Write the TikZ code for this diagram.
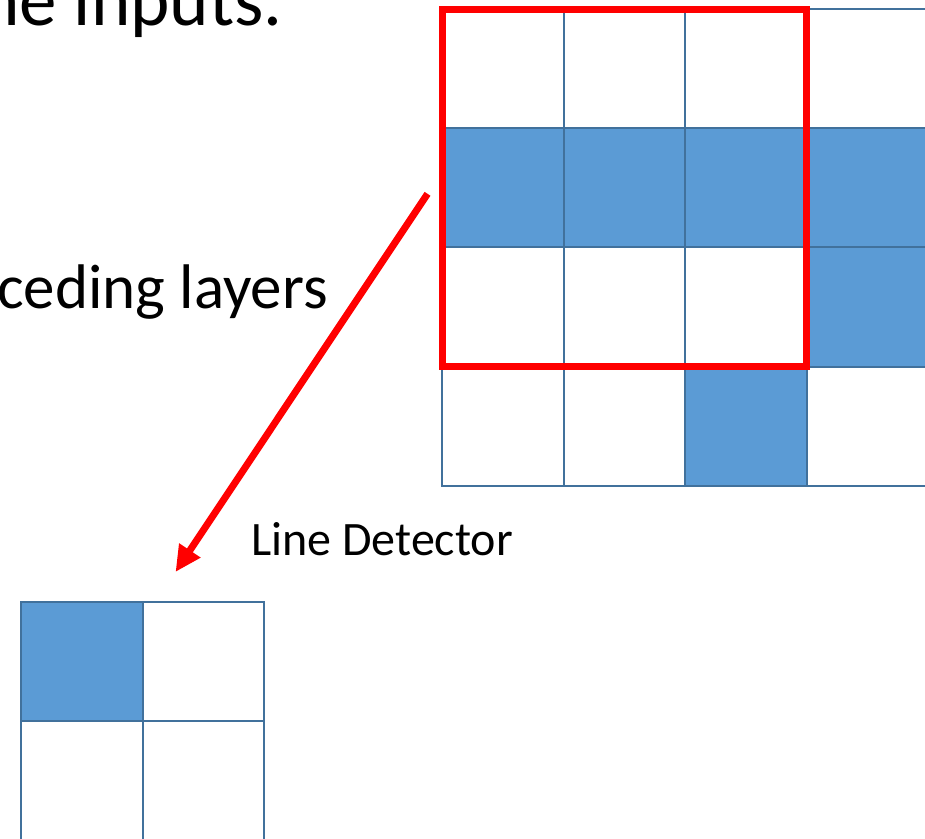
\documentclass[tikz,border=0pt]{standalone}
\usepackage{fontspec}
\setmainfont{Carlito}
\usetikzlibrary{arrows.meta,positioning,calc,fit}
\definecolor{cellblue}{HTML}{5B9BD5}
\definecolor{cellline}{HTML}{41719C}
\definecolor{boxred}{HTML}{FF0000}

\begin{document}
\begin{tikzpicture}[x=1pt,y=-1pt,
		cell/.style={draw=cellline, line width=2pt, fill=white, inner sep=0pt, anchor=north west,
			minimum width=121.7pt, minimum height=119.2pt},
		filled/.style={cell, fill=cellblue},
		window/.style={draw=boxred, line width=7pt, inner sep=-1.5pt},
		slidetext/.style={font=\fontsize{63}{70}\selectfont, inner sep=0pt, anchor=base east},
		labeltext/.style={font=\fontsize{48}{52}\selectfont, inner sep=0pt, anchor=base west}]
		\useasboundingbox (0,0) rectangle (925,838);
		\clip (0,0) rectangle (925,838);

		% input grid, white cells first, filled ones on top
		\foreach \r in {1,...,4}
			\foreach \c in {1,...,4}
				\node[cell] (c-\r-\c) at ({441+(\c-1)*121.7}, {8+(\r-1)*119.2}) {};
		\foreach \r/\c in {2/1,2/2,2/3,2/4,3/4,4/3}
			\node[filled] (c-\r-\c) at ({441+(\c-1)*121.7}, {8+(\r-1)*119.2}) {};

		% detector grid
		\foreach \r in {1,2}
			\foreach \c in {1,2}
				\node[cell] (s-\r-\c) at ({20+(\c-1)*121.5}, {601+(\r-1)*119.2}) {};
		\node[filled] (s-1-1) at (20,601) {};

		% receptive field
		\node[window, fit=(c-1-1)(c-3-3)] (window) {};

		% arrow down to the detector
		\coordinate (from) at ($(window.west)+(-11.5,6)$);
		\coordinate (tip) at ($(s-1-2.north west)+(34,-29)$);
		\draw[boxred, line width=7pt, -{Triangle[length=26pt,width=24pt]}] (from) -- (tip);

		% labels
		\node[slidetext, font=\fontsize{75}{80}\selectfont] (inputs) at (283,25) {the inputs.};
		\node[slidetext] (layers) at (328,308) {ceding layers};
		\node[labeltext] (detector) at (251,555) {Line Detector};
	\end{tikzpicture}
\end{document}
